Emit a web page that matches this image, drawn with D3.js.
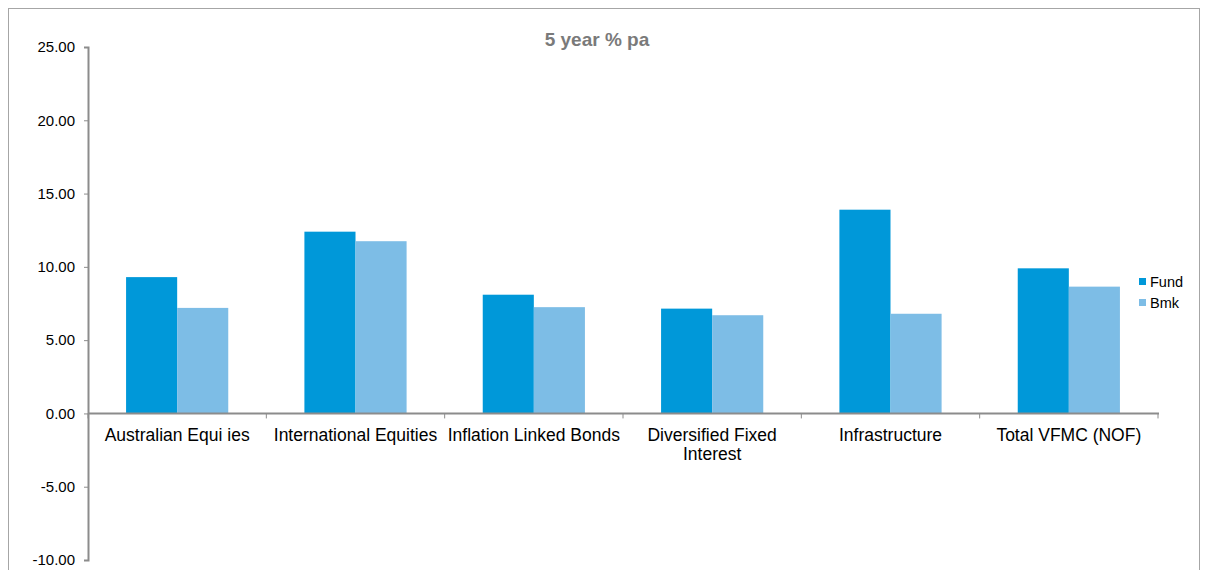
<!DOCTYPE html>
<html><head><meta charset="utf-8">
<script src="https://cdn.jsdelivr.net/npm/d3@7"></script>
<style>body{margin:0;background:#fff;font-family:"Liberation Sans",Arial,sans-serif}</style>
</head><body><svg id="c" width="1206" height="570"></svg>
<script>
const categories = ["Australian Equi ies","International Equities","Inflation Linked Bonds","Diversified Fixed\nInterest","Infrastructure","Total VFMC (NOF)"];
const fund = [9.3, 12.4, 8.1, 7.15, 13.9, 9.9];
const bmk = [7.2, 11.75, 7.25, 6.7, 6.8, 8.65];
const seriesNames = ["Fund","Bmk"];
const yTicks = [25,20,15,10,5,0,-5,-10];
const colors = ["#0098d9","#7dbde6"];

const svg = d3.select("#c");
svg.append("rect").attr("x",8.5).attr("y",8.5).attr("width",1191).attr("height",600)
  .attr("fill","none").attr("stroke","#a6a6a6").attr("stroke-width",1);

const x0 = 88, x1 = 1158, yTop = 47, yBot = 560;
const x = d3.scaleBand().domain(categories).range([x0,x1]).paddingInner(0).paddingOuter(0);
const y = d3.scaleLinear().domain([-10,25]).range([yBot,yTop]);
const groupFrac = 0.573;
const sub = d3.scaleBand().domain(seriesNames).range([0, x.bandwidth()*groupFrac]);
const offset = x.bandwidth()*(1-groupFrac)/2;

const data = categories.map((c,i)=>({c, vals:[fund[i], bmk[i]]}));
const g = svg.append("g");
data.forEach(d=>{
  d.vals.forEach((v,j)=>{
    g.append("rect")
      .attr("x", x(d.c)+offset+sub(seriesNames[j]))
      .attr("y", y(Math.max(0,v)))
      .attr("width", sub.bandwidth())
      .attr("height", Math.abs(y(v)-y(0)))
      .attr("fill", colors[j]);
  });
});

// y axis
const fmt = d3.format(".2f");
const yAxis = d3.axisLeft(y).tickValues(yTicks).tickFormat(d=>fmt(d).replace("\u2212","-")).tickSize(4).tickPadding(9);
const ya = svg.append("g").attr("transform",`translate(${x0},0)`).call(yAxis);
ya.select(".domain").attr("stroke","#8c8c8c").attr("stroke-width",2);
ya.selectAll(".tick line").attr("stroke","#8c8c8c");
ya.selectAll(".tick text").attr("font-size",15).attr("fill","#000").attr("font-family","Liberation Sans, Arial, sans-serif");

// x axis at zero
const xa = svg.append("g").attr("transform",`translate(0,${y(0)})`);
xa.append("line").attr("x1",x0).attr("x2",x1+1).attr("stroke","#8c8c8c").attr("stroke-width",2);
const bounds = categories.map(c=>x(c)).concat([x1]);
xa.selectAll(".xt").data(bounds).enter().append("line")
  .attr("x1",d=>d).attr("x2",d=>d).attr("y1",0).attr("y2",5).attr("stroke","#8c8c8c");
categories.forEach(c=>{
  const lines = c.split("\n");
  const t = svg.append("text").attr("x", x(c)+x.bandwidth()/2).attr("y", y(0)+28)
    .attr("text-anchor","middle").attr("font-size",17.5).attr("fill","#000");
  lines.forEach((l,i)=>t.append("tspan").attr("x",x(c)+x.bandwidth()/2).attr("dy", i?19:0).text(l));
});

// title
svg.append("text").attr("x",597).attr("y",46).attr("text-anchor","middle")
  .attr("font-size",19).attr("font-weight","bold").attr("fill","#7a7a7a").text("5 year % pa");

// legend
const lg = svg.append("g").attr("transform","translate(1139,278)");
seriesNames.forEach((s,i)=>{
  lg.append("rect").attr("x",0).attr("y",i*21).attr("width",7).attr("height",7).attr("fill",colors[i]);
  lg.append("text").attr("x",11).attr("y",i*21+9).attr("font-size",14.5).attr("fill","#000").text(s);
});
</script></body></html>
